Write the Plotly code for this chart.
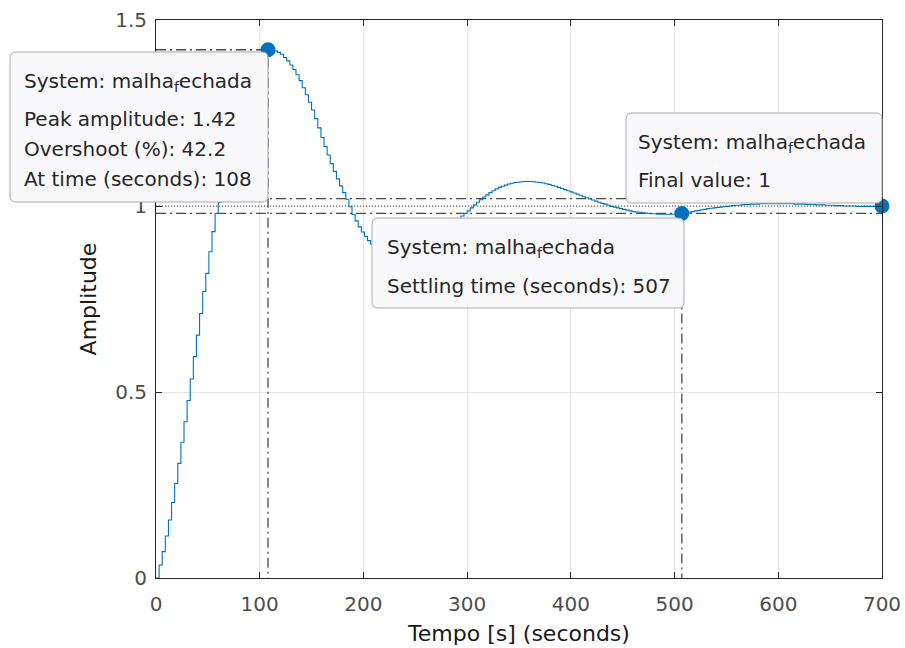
import plotly.graph_objects as go

# ---------------- data ----------------
TS = 3.0            # sample time of the discrete step response [s]
T_END = 700         # end of the simulated time window [s]

amplitude = [
    0.000, 0.035, 0.071, 0.113, 0.156, 0.203, 0.254, 0.308, 0.365, 0.420,
    0.477, 0.535, 0.595, 0.653, 0.711, 0.770, 0.819, 0.877, 0.931, 0.980,
    1.010, 1.045, 1.089, 1.135, 1.177, 1.216, 1.251, 1.283, 1.312, 1.337,
    1.359, 1.378, 1.393, 1.405, 1.413, 1.418, 1.422, 1.421, 1.417, 1.413,
    1.408, 1.399, 1.390, 1.379, 1.367, 1.353, 1.337, 1.318, 1.299, 1.279,
    1.258, 1.235, 1.210, 1.184, 1.160, 1.137, 1.114, 1.093, 1.073, 1.054,
    1.036, 1.018, 0.998, 0.977, 0.960, 0.944, 0.930, 0.918, 0.907, 0.897,
    0.889, 0.881, 0.874, 0.868, 0.863, 0.859, 0.856, 0.854, 0.852, 0.851,
    0.851, 0.851, 0.853, 0.856, 0.860, 0.865, 0.871, 0.878, 0.886, 0.894,
    0.903, 0.912, 0.921, 0.930, 0.939, 0.948, 0.957, 0.965, 0.973, 0.980,
    0.987, 0.995, 1.003, 1.010, 1.017, 1.024, 1.030, 1.036, 1.041, 1.046,
    1.050, 1.053, 1.056, 1.059, 1.061, 1.063, 1.064, 1.065, 1.066, 1.066,
    1.066, 1.065, 1.064, 1.063, 1.062, 1.060, 1.058, 1.055, 1.053, 1.050,
    1.047, 1.044, 1.041, 1.038, 1.035, 1.032, 1.029, 1.025, 1.022, 1.019,
    1.016, 1.013, 1.010, 1.007, 1.005, 1.002, 0.999, 0.997, 0.995, 0.993,
    0.991, 0.989, 0.987, 0.985, 0.984, 0.983, 0.982, 0.981, 0.980, 0.979,
    0.979, 0.978, 0.978, 0.978, 0.978, 0.978, 0.978, 0.979, 0.979, 0.980,
    0.982, 0.983, 0.985, 0.987, 0.988, 0.990, 0.991, 0.993, 0.994, 0.995,
    0.996, 0.997, 0.998, 0.999, 1.000, 1.001, 1.002, 1.002, 1.003, 1.004,
    1.004, 1.005, 1.005, 1.005, 1.006, 1.006, 1.006, 1.006, 1.006, 1.006,
    1.006, 1.006, 1.006, 1.006, 1.006, 1.005, 1.005, 1.005, 1.005, 1.004,
    1.004, 1.004, 1.003, 1.003, 1.003, 1.002, 1.002, 1.002, 1.001, 1.001,
    1.001, 1.000, 1.000, 1.000, 1.000, 0.999, 0.999, 0.999, 0.999, 0.999,
    0.999, 0.999, 0.999, 0.999,
]
time_s = [i * TS for i in range(len(amplitude))]

x_ticks = [0, 100, 200, 300, 400, 500, 600, 700]
y_ticks = [0, 0.5, 1, 1.5]
y_tick_labels = ["0", "0.5", "1", "1.5"]

system_name = "malha<sub>f</sub>echada"
peak_time = 108
peak_amplitude = 1.42
overshoot_pct = 42.2
settling_time = 507
final_value = 1.0
settling_band = 0.02

# ---------------- layout constants ----------------
FIG_W, FIG_H = 905, 648
ML, MR, MT, MB = 156, 23, 20, 70
PW, PH = FIG_W - ML - MR, FIG_H - MT - MB
FONT = "DejaVu Sans"
BLUE = "#0072BD"
CHAR = "#4a4a4a"


def px_x(px):
    return (px - ML) / PW


def px_y(py):
    return (FIG_H - MB - py) / PH


def rounded_box(x0, y0, x1, y1, r=6):
    X0, X1, Yt, Yb = px_x(x0), px_x(x1), px_y(y0), px_y(y1)
    rx, ry = r / PW, r / PH
    return (f"M {X0 + rx},{Yt} L {X1 - rx},{Yt} Q {X1},{Yt} {X1},{Yt - ry} "
            f"L {X1},{Yb + ry} Q {X1},{Yb} {X1 - rx},{Yb} "
            f"L {X0 + rx},{Yb} Q {X0},{Yb} {X0},{Yb + ry} "
            f"L {X0},{Yt - ry} Q {X0},{Yt} {X0 + rx},{Yt} Z")


fig = go.Figure()

# settling band (dash-dot) and final value (dotted)
band_hi = final_value * (1 + settling_band)
band_lo = final_value * (1 - settling_band)
for yv in (band_hi, band_lo):
    fig.add_trace(go.Scatter(x=[0, T_END], y=[yv, yv], mode="lines",
                             line=dict(color=CHAR, width=1.3, dash="10px,4px,2px,4px"),
                             hoverinfo="skip"))
fig.add_trace(go.Scatter(x=[0, T_END], y=[final_value, final_value], mode="lines",
                         line=dict(color=CHAR, width=1.2, dash="1px,2px"),
                         hoverinfo="skip"))
# peak characteristic lines
fig.add_trace(go.Scatter(x=[0, peak_time, peak_time], y=[peak_amplitude, peak_amplitude, 0],
                         mode="lines",
                         line=dict(color=CHAR, width=1.3, dash="10px,4px,2px,4px"),
                         hoverinfo="skip"))
# settling time line
fig.add_trace(go.Scatter(x=[settling_time, settling_time], y=[band_lo, 0], mode="lines",
                         line=dict(color=CHAR, width=1.3, dash="10px,4px,2px,4px"),
                         hoverinfo="skip"))

# step response (staircase)
fig.add_trace(go.Scatter(x=time_s + [T_END], y=amplitude + [amplitude[-1]],
                         mode="lines", line=dict(color=BLUE, width=1.1, shape="hv"),
                         name="malha_fechada"))

# data-tip markers
fig.add_trace(go.Scatter(x=[peak_time, settling_time, T_END],
                         y=[peak_amplitude, band_lo, final_value],
                         mode="markers", cliponaxis=False,
                         marker=dict(color=BLUE, size=15, line=dict(width=0))))

# ---------------- data tips ----------------
tips = [
    dict(box=(10, 52, 268, 202), tx=22,
         lines=[(f"System: {system_name}", 81.5),
                (f"Peak amplitude: {peak_amplitude:.2f}", 119.2),
                (f"Overshoot (%): {overshoot_pct:.1f}", 149.2),
                (f"At time (seconds): {peak_time:d}", 178.5)]),
    dict(box=(372, 218, 684, 308), tx=385,
         lines=[(f"System: {system_name}", 248),
                (f"Settling time (seconds): {settling_time:d}", 286)]),
    dict(box=(626, 113, 882, 203), tx=636,
         lines=[(f"System: {system_name}", 143),
                (f"Final value: {final_value:g}", 179.5)]),
]

shapes, annotations = [], []
for tip in tips:
    x0, y0, x1, y1 = tip["box"]
    shapes.append(dict(type="path", xref="paper", yref="paper", layer="above",
                       path=rounded_box(x0, y0, x1, y1),
                       fillcolor="#f9f9fc", line=dict(color="#a8a8a8", width=1)))
    for text, cy in tip["lines"]:
        annotations.append(dict(xref="paper", yref="paper", x=px_x(tip["tx"]), y=px_y(cy),
                                xanchor="left", yanchor="middle", showarrow=False,
                                text=text, font=dict(family=FONT, size=20, color="#262626")))

axis_common = dict(showline=True, linecolor="#262626", linewidth=1, mirror="ticks",
                   ticks="inside", ticklen=6, tickcolor="#262626", tickwidth=1,
                   showgrid=True, gridcolor="#e4e4e4", gridwidth=1, zeroline=False,
                   automargin=False,
                   tickfont=dict(family=FONT, size=20, color="#4d4d4d"))

fig.update_layout(
    width=FIG_W, height=FIG_H,
    margin=dict(l=ML, r=MR, t=MT, b=MB),
    paper_bgcolor="white", plot_bgcolor="white",
    showlegend=False,
    shapes=shapes, annotations=annotations,
    xaxis=dict(range=[0, T_END], tickvals=x_ticks, ticklabelstandoff=8,
               title=dict(text="Tempo [s] (seconds)", standoff=10,
                          font=dict(family=FONT, size=22, color="#1a1a1a")),
               **axis_common),
    yaxis=dict(range=[0, 1.5], tickvals=y_ticks, ticktext=y_tick_labels, ticklabelstandoff=4,
               title=dict(text="Amplitude", standoff=12,
                          font=dict(family=FONT, size=22, color="#1a1a1a")),
               **axis_common),
)

fig.write_html("out.html")
